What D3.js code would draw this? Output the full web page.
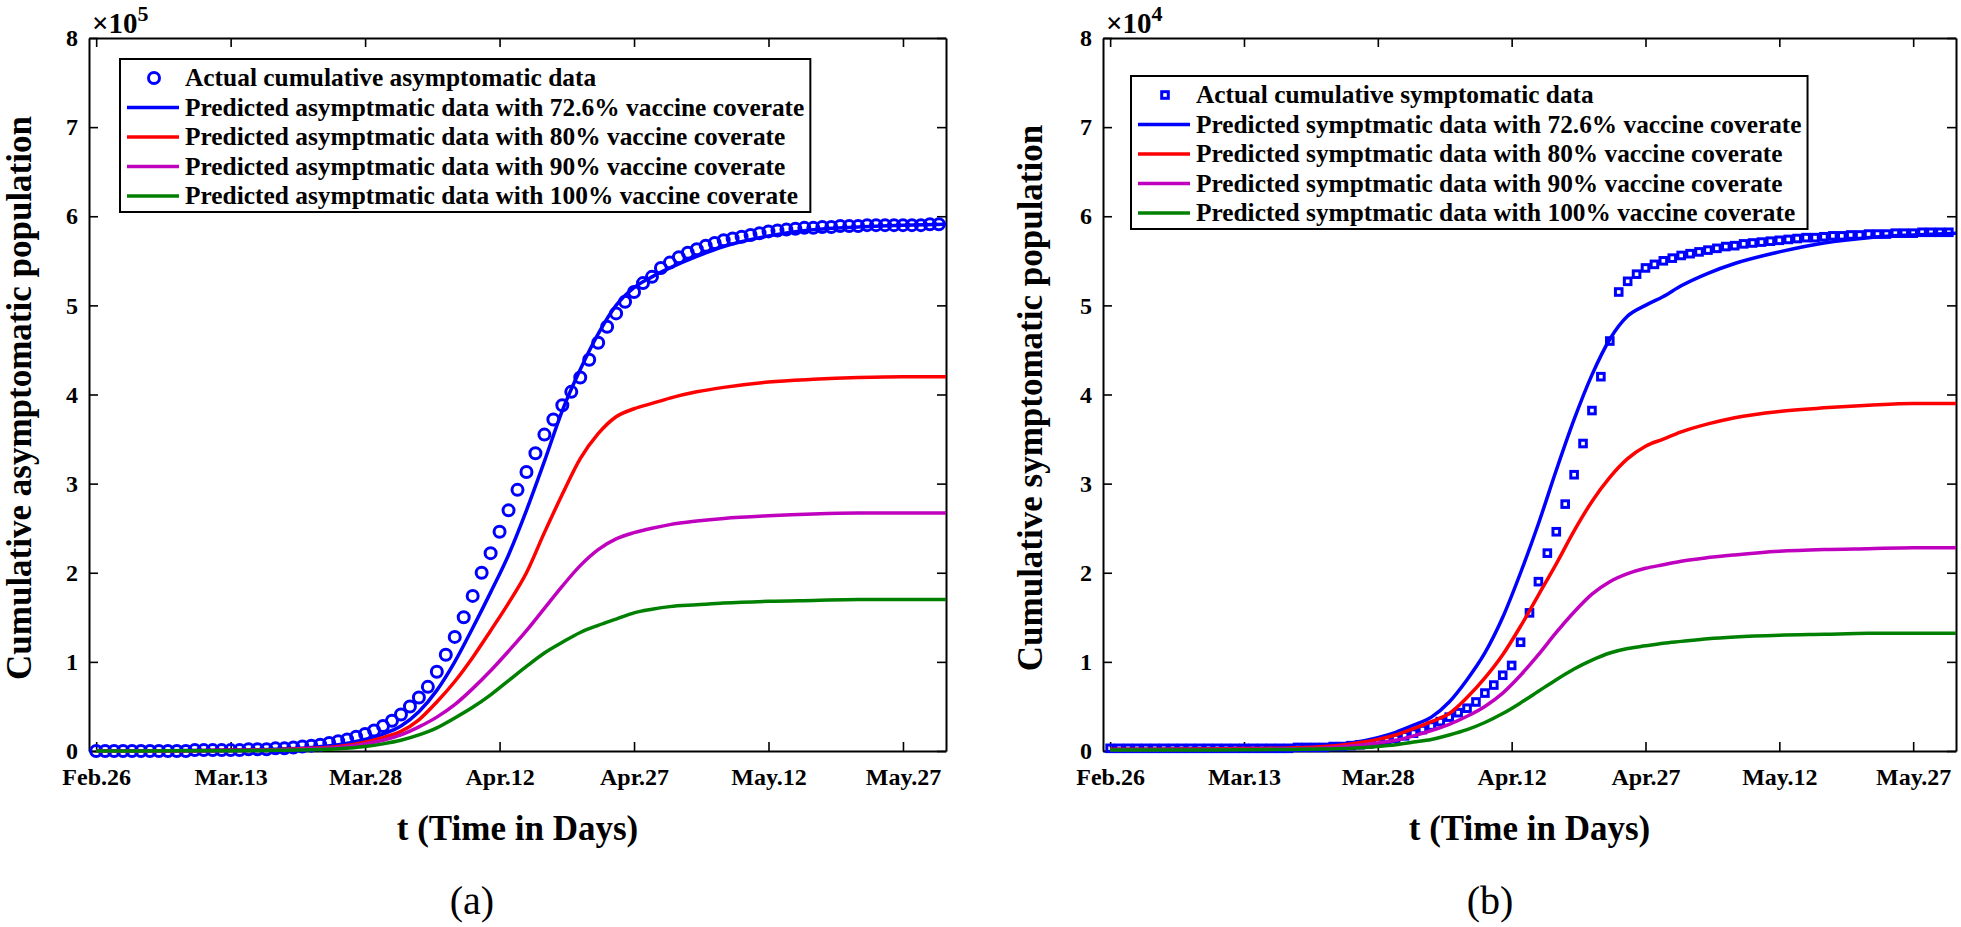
<!DOCTYPE html>
<html>
<head>
<meta charset="utf-8">
<script src="https://cdn.jsdelivr.net/npm/d3@7"></script>
<style>
  body { margin: 0; background: #fff; }
  svg text { font-family: "Liberation Serif", "Times New Roman", serif; }
</style>
</head>
<body>
<div id="chart-area"></div>
<script>
// ---- data (days counted from Feb.26) ----
var tickDays = [0, 15, 30, 45, 60, 75, 90];
var tickLabels = ["Feb.26", "Mar.13", "Mar.28", "Apr.12", "Apr.27", "May.12", "May.27"];
var yTicks = [0, 1, 2, 3, 4, 5, 6, 7, 8];
var dataDays = d3.range(0, 95);
var modelDays = [0, 5, 10, 15, 20, 24, 27, 30, 32, 34, 36, 38, 40, 42, 44, 46, 48, 50, 52, 54, 56, 58, 60, 62, 64, 67, 70, 75, 80, 85, 90, 94.8];

// panel (a): asymptomatic, x10^5
var asymActual = [0.00, 0.00, 0.00, 0.00, 0.00, 0.00, 0.00, 0.00, 0.00, 0.00,
  0.00, 0.01, 0.01, 0.01, 0.01, 0.01, 0.01, 0.02, 0.02, 0.02,
  0.03, 0.03, 0.04, 0.05, 0.06, 0.07, 0.09, 0.11, 0.13, 0.16,
  0.19, 0.23, 0.28, 0.34, 0.41, 0.50, 0.60, 0.72, 0.89, 1.08,
  1.28, 1.50, 1.74, 2.00, 2.22, 2.46, 2.70, 2.93, 3.13, 3.34,
  3.55, 3.72, 3.88, 4.03, 4.19, 4.39, 4.58, 4.76, 4.91, 5.04,
  5.15, 5.25, 5.32, 5.42, 5.48, 5.54, 5.59, 5.63, 5.67, 5.70,
  5.73, 5.75, 5.77, 5.79, 5.81, 5.83, 5.84, 5.85, 5.86, 5.87,
  5.87, 5.88, 5.88, 5.89, 5.89, 5.89, 5.90, 5.90, 5.90, 5.90,
  5.90, 5.90, 5.90, 5.91, 5.91];
var asym726 = [0, 0, 0.005, 0.01, 0.02, 0.04, 0.07, 0.13, 0.19, 0.28, 0.44, 0.68, 1.0, 1.38, 1.78, 2.2, 2.7, 3.25, 3.82, 4.28, 4.68, 5.0, 5.2, 5.32, 5.42, 5.55, 5.66, 5.78, 5.85, 5.88, 5.9, 5.91];
var asym80 = [0, 0, 0.004, 0.008, 0.015, 0.03, 0.05, 0.1, 0.15, 0.22, 0.35, 0.55, 0.78, 1.05, 1.35, 1.66, 2.0, 2.45, 2.88, 3.28, 3.56, 3.75, 3.84, 3.9, 3.96, 4.03, 4.08, 4.14, 4.17, 4.19, 4.2, 4.2];
var asym90 = [0, 0, 0.003, 0.006, 0.012, 0.025, 0.04, 0.08, 0.12, 0.18, 0.27, 0.38, 0.52, 0.7, 0.9, 1.12, 1.35, 1.6, 1.85, 2.08, 2.26, 2.38, 2.45, 2.5, 2.54, 2.58, 2.61, 2.64, 2.66, 2.67, 2.67, 2.67];
var asym100 = [0, 0, 0.002, 0.004, 0.008, 0.015, 0.025, 0.05, 0.08, 0.12, 0.18, 0.26, 0.37, 0.49, 0.63, 0.79, 0.95, 1.1, 1.22, 1.33, 1.41, 1.48, 1.55, 1.59, 1.62, 1.64, 1.66, 1.68, 1.69, 1.7, 1.7, 1.7];

// panel (b): symptomatic, x10^4
var sympActual = [0.03, 0.03, 0.03, 0.03, 0.03, 0.03, 0.03, 0.03, 0.03, 0.03,
  0.03, 0.03, 0.03, 0.03, 0.03, 0.03, 0.03, 0.03, 0.03, 0.03,
  0.03, 0.04, 0.04, 0.04, 0.04, 0.05, 0.05, 0.06, 0.07, 0.08,
  0.10, 0.12, 0.14, 0.17, 0.20, 0.24, 0.28, 0.33, 0.38, 0.43,
  0.48, 0.55, 0.65, 0.74, 0.85, 0.96, 1.22, 1.55, 1.90, 2.22,
  2.46, 2.77, 3.10, 3.45, 3.82, 4.20, 4.60, 5.15, 5.27, 5.35,
  5.42, 5.46, 5.50, 5.53, 5.56, 5.58, 5.60, 5.62, 5.64, 5.66,
  5.67, 5.69, 5.70, 5.71, 5.72, 5.73, 5.74, 5.75, 5.76, 5.76,
  5.77, 5.78, 5.78, 5.79, 5.79, 5.80, 5.80, 5.80, 5.81, 5.81,
  5.81, 5.82, 5.82, 5.82, 5.82];
var symp726 = [0.02, 0.02, 0.025, 0.03, 0.04, 0.06, 0.09, 0.15, 0.21, 0.29, 0.38, 0.55, 0.8, 1.1, 1.5, 2.0, 2.55, 3.15, 3.72, 4.22, 4.62, 4.88, 5.0, 5.1, 5.22, 5.36, 5.47, 5.6, 5.7, 5.76, 5.79, 5.81];
var symp80 = [0.02, 0.02, 0.022, 0.027, 0.035, 0.05, 0.08, 0.13, 0.18, 0.25, 0.33, 0.42, 0.6, 0.82, 1.08, 1.4, 1.75, 2.1, 2.47, 2.8, 3.07, 3.28, 3.42, 3.5, 3.58, 3.67, 3.74, 3.81, 3.85, 3.88, 3.9, 3.9];
var symp90 = [0.015, 0.015, 0.017, 0.02, 0.025, 0.035, 0.055, 0.09, 0.12, 0.17, 0.23, 0.3, 0.39, 0.5, 0.65, 0.85, 1.08, 1.33, 1.56, 1.76, 1.9, 1.99, 2.05, 2.09, 2.13, 2.17, 2.2, 2.24, 2.26, 2.27, 2.28, 2.28];
var symp100 = [0.01, 0.01, 0.012, 0.014, 0.017, 0.022, 0.03, 0.05, 0.07, 0.1, 0.13, 0.18, 0.24, 0.32, 0.42, 0.54, 0.67, 0.8, 0.92, 1.02, 1.1, 1.15, 1.18, 1.21, 1.23, 1.26, 1.28, 1.3, 1.31, 1.32, 1.32, 1.32];

var lineColors = ["#0000ff", "#ff0000", "#bf00bf", "#008000"];
var coverages = ["72.6%", "80%", "90%", "100%"];

// ---- layout ----
var W = 1961, H = 927;
var yBottom = 751, yTop = 38;

var svg = d3.select("#chart-area")
    .append("svg")
    .attr("width", W)
    .attr("height", H);

var panels = [
    {
        left: 89, right: 946, exp: "5", capX: 472, capText: "(a)", ylabX: 31,
        ylabel: "Cumulative asymptomatic population",
        actual: asymActual, marker: "circle",
        models: [asym726, asym80, asym90, asym100],
        legLeft: 120, legTop: 59, legFont: 25.4,
        legend: ["Actual cumulative asymptomatic data"].concat(coverages.map(c => "Predicted asymptmatic data with " + c + " vaccine coverate"))
    },
    {
        left: 1103, right: 1956, exp: "4", capX: 1490, capText: "(b)", ylabX: 1042,
        ylabel: "Cumulative symptomatic population",
        actual: sympActual, marker: "square",
        models: [symp726, symp80, symp90, symp100],
        legLeft: 1131, legTop: 76, legFont: 25.35,
        legend: ["Actual cumulative symptomatic data"].concat(coverages.map(c => "Predicted symptmatic data with " + c + " vaccine coverate"))
    }
];

function styleAxis(sel) {
    sel.select(".domain").attr("stroke", "#000").attr("stroke-width", 2);
    sel.selectAll(".tick line").attr("stroke", "#000").attr("stroke-width", 1.6);
    sel.selectAll("text")
        .attr("fill", "#000")
        .style("font-family", '"Liberation Serif", "Times New Roman", serif')
        .style("font-weight", "bold")
        .style("font-size", "24px");
}

function drawMarker(g, kind, cx, cy) {
    if (kind === "circle") {
        g.append("circle")
            .attr("cx", cx).attr("cy", cy).attr("r", 5.5)
            .attr("fill", "none").attr("stroke", "#0000ff").attr("stroke-width", 3);
    } else {
        g.append("rect")
            .attr("x", cx - 3.3).attr("y", cy - 3.3)
            .attr("width", 6.6).attr("height", 6.6)
            .attr("fill", "none").attr("stroke", "#0000ff").attr("stroke-width", 3);
    }
}

function drawPanel(p) {
    var x = d3.scaleLinear().domain([-0.8, 94.8]).range([p.left, p.right]);
    var y = d3.scaleLinear().domain([0, 8]).range([yBottom, yTop]);
    var group = svg.append("g");

    // frame with inward ticks on all four sides
    group.append("g")
        .attr("transform", "translate(0," + yBottom + ")")
        .call(d3.axisBottom(x).tickValues(tickDays).tickFormat((d, i) => tickLabels[i])
            .tickSizeInner(-9).tickSizeOuter(0).tickPadding(17))
        .call(styleAxis);
    group.append("g")
        .attr("transform", "translate(0," + yTop + ")")
        .call(d3.axisTop(x).tickValues(tickDays).tickFormat("")
            .tickSizeInner(-9).tickSizeOuter(0))
        .call(styleAxis);
    group.append("g")
        .attr("transform", "translate(" + p.left + ",0)")
        .call(d3.axisLeft(y).tickValues(yTicks).tickFormat(d3.format("d"))
            .tickSizeInner(-9).tickSizeOuter(0).tickPadding(11))
        .call(styleAxis);
    group.append("g")
        .attr("transform", "translate(" + p.right + ",0)")
        .call(d3.axisRight(y).tickValues(yTicks).tickFormat("")
            .tickSizeInner(-9).tickSizeOuter(0))
        .call(styleAxis);

    // exponent
    var ex = group.append("text")
        .attr("x", p.left + 3).attr("y", 33)
        .attr("font-size", 29).attr("font-weight", "bold")
        .text("\u00d710");
    ex.append("tspan").attr("font-size", 22).attr("dy", -12).text(p.exp);

    // actual data markers
    var mk = group.append("g");
    p.actual.forEach((v, i) => drawMarker(mk, p.marker, x(dataDays[i]), y(v)));

    // model curves
    var line = d3.line()
        .x((d, i) => x(modelDays[i]))
        .y(d => y(d))
        .curve(d3.curveMonotoneX);
    p.models.forEach((m, k) => {
        group.append("path")
            .attr("d", line(m))
            .attr("fill", "none")
            .attr("stroke", lineColors[k])
            .attr("stroke-width", 3.5);
    });

    // axis labels
    group.append("text")
        .attr("transform", "translate(" + p.ylabX + "," + 398 + ") rotate(-90)")
        .attr("text-anchor", "middle")
        .attr("font-size", 35).attr("font-weight", "bold")
        .text(p.ylabel);
    group.append("text")
        .attr("x", (p.left + p.right) / 2).attr("y", 840)
        .attr("text-anchor", "middle")
        .attr("font-size", 35).attr("font-weight", "bold")
        .text("t (Time in Days)");
    group.append("text")
        .attr("x", p.capX).attr("y", 914)
        .attr("text-anchor", "middle")
        .attr("font-size", 40)
        .text(p.capText);

    // legend
    var lg = group.append("g");
    var box = lg.append("rect")
        .attr("x", p.legLeft).attr("y", p.legTop)
        .attr("height", 153)
        .attr("fill", "#fff").attr("stroke", "#000").attr("stroke-width", 2);
    var maxW = 0;
    p.legend.forEach((label, i) => {
        var ly = p.legTop + 19 + i * 29.5;
        if (i === 0) {
            drawMarker(lg, p.marker, p.legLeft + 34, ly);
        } else {
            lg.append("line")
                .attr("x1", p.legLeft + 7).attr("x2", p.legLeft + 59)
                .attr("y1", ly).attr("y2", ly)
                .attr("stroke", lineColors[i - 1]).attr("stroke-width", 3.5);
        }
        var t = lg.append("text")
            .attr("x", p.legLeft + 65).attr("y", ly).attr("dy", "0.33em")
            .attr("font-size", p.legFont).attr("font-weight", "bold")
            .text(label);
        maxW = Math.max(maxW, t.node().getComputedTextLength());
    });
    box.attr("width", 65 + maxW + 6);
}

panels.forEach(drawPanel);
</script>
</body>
</html>
